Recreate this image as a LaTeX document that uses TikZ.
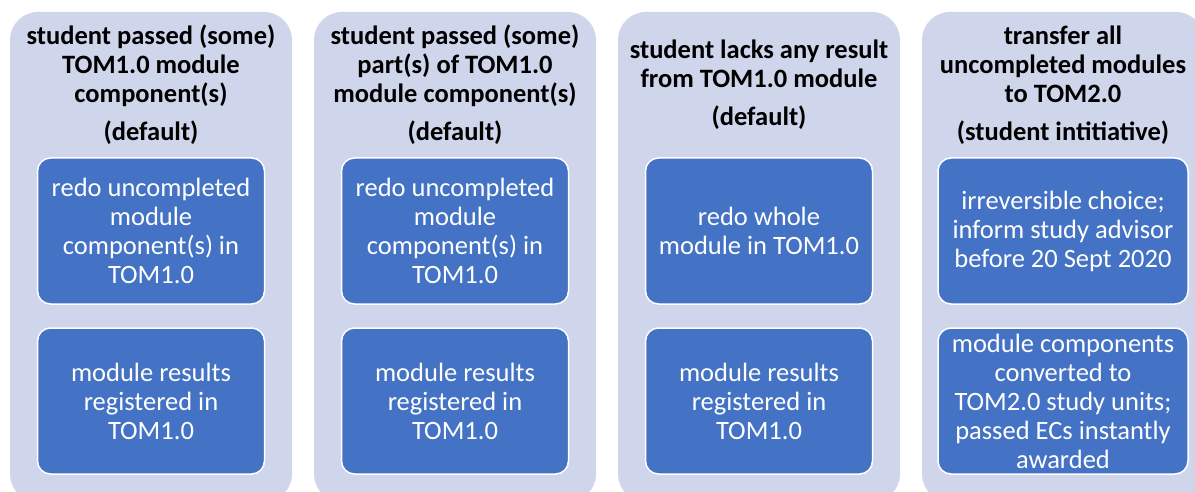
\documentclass[tikz,border=0pt]{standalone}
\usepackage{fontspec}
\setmainfont{Carlito}
\usetikzlibrary{positioning}
\definecolor{lanefill}{HTML}{CFD5EA}
\definecolor{accent}{HTML}{4472C4}
\tikzset{
  % A lavender column: one route for the student
  lane/.style={
    fill=lanefill, rounded corners=28pt, minimum width=282pt,
    minimum height=490pt, inner sep=0pt, outer sep=0pt},
  % The bold heading at the top of a column
  lanehead/.style={
    align=center, font=\fontsize{26.5}{29}\selectfont\bfseries,
    minimum height=146pt, inner sep=0pt, outer sep=0pt},
  % A blue step box inside a column
  action/.style={
    draw=white, line width=1.5pt, fill=accent, text=white,
    rounded corners=13pt, align=center, font=\fontsize{26.5}{29}\selectfont,
    minimum width=#1, minimum height=146pt, inner sep=0pt, outer sep=0pt},
  action/.default=227pt,
}
\begin{document}
\begin{tikzpicture}[x=1pt, y=-1pt]
\useasboundingbox (0,0) rectangle (1195,492);

% columns
\node[lane, anchor=north west] (laneA) at (10,12) {};
\node[lane, right=22pt of laneA] (laneB) {};
\node[lane, right=22pt of laneB] (laneC) {};
\node[lane, right=22pt of laneC] (laneD) {};

% headings
\node[lanehead, below=0pt of laneA.north] (headA)
  {student passed (some)\\TOM1.0 module\\component(s)\\[9pt](default)};
\node[lanehead, below=0pt of laneB.north] (headB)
  {student passed (some)\\part(s) of TOM1.0\\module component(s)\\[9pt](default)};
\node[lanehead, below=0pt of laneC.north] (headC)
  {student lacks any result\\from TOM1.0 module\\[9pt](default)};
\node[lanehead, below=0pt of laneD.north] (headD)
  {transfer all\\uncompleted modules\\to TOM2.0\\[9pt](student intitiative)};

% steps
\node[action, below=0pt of headA] (redoA)
  {redo uncompleted\\module\\component(s) in\\TOM1.0};
\node[action, below=24pt of redoA] (resultA)
  {module results\\registered in\\TOM1.0};

\node[action, below=0pt of headB] (redoB)
  {redo uncompleted\\module\\component(s) in\\TOM1.0};
\node[action, below=24pt of redoB] (resultB)
  {module results\\registered in\\TOM1.0};

\node[action, below=0pt of headC] (redoC)
  {redo whole\\module in TOM1.0};
\node[action, below=24pt of redoC] (resultC)
  {module results\\registered in\\TOM1.0};

\node[action=250pt, below=0pt of headD] (choiceD)
  {irreversible choice;\\inform study advisor\\before 20 Sept 2020};
\node[action=250pt, below=24pt of choiceD] (convertD)
  {module components\\converted to\\TOM2.0 study units;\\passed ECs instantly\\awarded};

\end{tikzpicture}
\end{document}
